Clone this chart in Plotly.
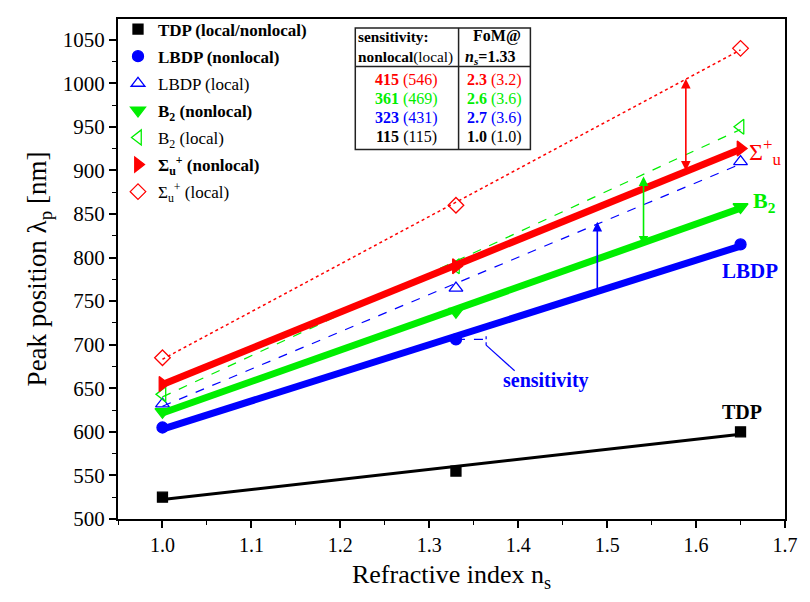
import numpy as np
import plotly.graph_objects as go

# ---------------- data ----------------
ns = [1.0, 1.33, 1.65]
tdp = [525, 555, 600]
lbdp_nl = [605, 706, 815]
lbdp_l = [632, 765, 910]
b2_nl = [623, 738, 858]
b2_l = [643, 790, 950]
sig_nl = [655, 790, 925]
sig_l = [685, 860, 1040]

sens_nl = ["415", "361", "323", "115"]
sens_l = ["546", "469", "431", "115"]
fom_nl = ["2.3", "2.6", "2.7", "1.0"]
fom_l = ["3.2", "3.6", "3.6", "1.0"]

RED, GREEN, BLUE, BLACK = "#ff0000", "#00ee00", "#0000ff", "#000000"
row_colors = [RED, GREEN, BLUE, BLACK]
FONT = "'Liberation Serif', 'Times New Roman', 'DejaVu Serif', serif"

# reference pixel -> data helpers (axis calibration)
def X(px):
    return 1.0 + (px - 164) / 904.0

def Y(py):
    return 500 + (519 - py) / 0.882

fig = go.Figure()

series = [
    (tdp, BLACK, "solid", 3, "square", 10, "<b>TDP (local/nonlocal)</b>"),
    (lbdp_nl, BLUE, "solid", 7, "circle", 11, "<b>LBDP (nonlocal)</b>"),
    (lbdp_l, BLUE, "dash", 1.2, "triangle-up-open", 12, "LBDP (local)"),
    (b2_nl, GREEN, "solid", 7, "triangle-down", 13, "<b>B<sub>2</sub> (nonlocal)</b>"),
    (b2_l, GREEN, "dash", 1.2, "triangle-left-open", 13, "B<sub>2</sub> (local)"),
    (sig_nl, RED, "solid", 7, "triangle-right", 13, "<b>Σ<sub>u</sub><sup>+</sup> (nonlocal)</b>"),
    (sig_l, RED, "dot", 1.5, "diamond-open", 12, "Σ<sub>u</sub><sup>+</sup> (local)"),
]

xfit = np.array([ns[0], ns[-1]])
for i, (ys, col, dash, w, sym, ms, name) in enumerate(series):
    k, b = np.polyfit(ns, ys, 1)
    fig.add_trace(go.Scatter(
        x=xfit, y=k * xfit + b, mode="lines", showlegend=False,
        line=dict(color=col, dash=dash, width=w),
    ))
    fig.add_trace(go.Scatter(
        x=ns, y=ys, mode="markers", showlegend=False,
        marker=dict(symbol=sym, size=ms, color=col, line=dict(color=col, width=1.3)),
    ))
    fig.add_trace(go.Scatter(
        x=[None], y=[None], mode="markers", name=name, legendgroup=f"g{i}",
        marker=dict(symbol=sym, size=ms, color=col, line=dict(color=col, width=1.3)),
    ))

# ---------------- arrows ----------------
arrows = [
    (X(696), 898, 1005, RED, "end+start"),
    (X(653), 812, 893, GREEN, "end+start"),
    (X(606), 757, 841, BLUE, "end"),
]
for xa, y0, y1, col, side in arrows:
    fig.add_annotation(x=xa, y=y1, ax=xa, ay=y0, xref="x", yref="y", axref="x", ayref="y",
                       showarrow=True, arrowhead=2, arrowsize=1.2, arrowwidth=1.6,
                       arrowcolor=col, arrowside=side, text="")

# ---------------- text labels ----------------
labels = [
    (X(776), Y(148), "Σ<sup>+</sup><sub>u</sub>", RED, 24),
    (X(776), Y(198), "<b>B<sub>2</sub></b>", GREEN, 22),
    (X(761), Y(268), "<b>LBDP</b>", BLUE, 21),
    (X(753), Y(411), "<b>TDP</b>", BLACK, 20),
    (X(554), Y(379), "<b>sensitivity</b>", BLUE, 20),
]
for xa, ya, t, col, fs in labels:
    fig.add_annotation(x=xa, y=ya, xref="x", yref="y", text=t, showarrow=False,
                       font=dict(family=FONT, size=fs, color=col))

# sensitivity pointer
fig.add_shape(type="line", x0=1.33, y0=706, x1=X(493), y1=706,
              line=dict(color=BLUE, width=1.2, dash="dash"))
fig.add_shape(type="line", x0=X(493), y0=Y(334), x1=X(493), y1=Y(346),
              line=dict(color=BLUE, width=1.2, dash="dot"))
fig.add_shape(type="line", x0=X(493), y0=Y(343), x1=X(522), y1=Y(369),
              line=dict(color=BLUE, width=1.2))

# ---------------- table ----------------
tx0, tx1, txm = X(360), X(538), X(465)
ty0, ty1, tym = Y(22), Y(145), Y(61)
fig.add_shape(type="rect", x0=tx0, x1=tx1, y0=ty1, y1=ty0, line=dict(color="#222", width=1.5))
fig.add_shape(type="line", x0=txm, x1=txm, y0=ty1, y1=ty0, line=dict(color="#222", width=1.5))
fig.add_shape(type="line", x0=tx0, x1=tx1, y0=tym, y1=tym, line=dict(color="#222", width=1.5))

fig.add_annotation(x=X(361), y=Y(41), xref="x", yref="y", xanchor="left",
                   text="<b>sensitivity:</b><br><b>nonlocal</b>(local)", align="left",
                   showarrow=False, font=dict(family=FONT, size=15.3, color=BLACK))
fig.add_annotation(x=X(469), y=Y(41), xref="x", yref="y", xanchor="left",
                   text="<b>  FoM@</b><br><b><i>n<sub>s</sub></i>=1.33</b>", align="left",
                   showarrow=False, font=dict(family=FONT, size=16, color=BLACK))
row_py = [75, 94, 113, 132]
for i in range(4):
    fig.add_annotation(x=X(412), y=Y(row_py[i]), xref="x", yref="y",
                       text=f"<b>{sens_nl[i]}</b> ({sens_l[i]})", showarrow=False,
                       font=dict(family=FONT, size=16, color=row_colors[i]))
    fig.add_annotation(x=X(501), y=Y(row_py[i]), xref="x", yref="y",
                       text=f"<b>{fom_nl[i]}</b> ({fom_l[i]})", showarrow=False,
                       font=dict(family=FONT, size=16, color=row_colors[i]))

# ---------------- layout ----------------
fig.update_layout(
    width=810, height=602,
    margin=dict(l=118, r=13, t=13, b=83),
    plot_bgcolor="white", paper_bgcolor="white",
    font=dict(family=FONT, size=20, color=BLACK),
    legend=dict(x=0.0, y=1.015, xanchor="left", yanchor="top", bgcolor="rgba(0,0,0,0)",
                font=dict(family=FONT, size=17, color=BLACK), tracegroupgap=2,
                itemwidth=30, traceorder="grouped"),
    xaxis=dict(range=[0.95, 1.7], dtick=0.1, tickformat=".1f", showgrid=False, zeroline=False,
               showline=True, linecolor=BLACK, linewidth=2, mirror=True,
               ticks="outside", ticklen=7, tickwidth=1.5, tickcolor=BLACK,
               minor=dict(dtick=0.05, ticks="outside", ticklen=4, tickwidth=1.2, tickcolor=BLACK),
               title=dict(text="Refractive index n<sub>s</sub>", font=dict(family=FONT, size=26), standoff=10),
               tickfont=dict(family=FONT, size=20)),
    yaxis=dict(range=[500, 1073.7], tick0=500, dtick=50, showgrid=False, zeroline=False,
               showline=True, linecolor=BLACK, linewidth=2, mirror=True,
               ticks="outside", ticklen=7, tickwidth=1.5, tickcolor=BLACK,
               minor=dict(dtick=25, ticks="outside", ticklen=4, tickwidth=1.2, tickcolor=BLACK),
               title=dict(text="Peak position λ<sub>p</sub> [nm]", font=dict(family=FONT, size=27), standoff=8),
               tickfont=dict(family=FONT, size=21)),
)

fig.write_html("out.html")
